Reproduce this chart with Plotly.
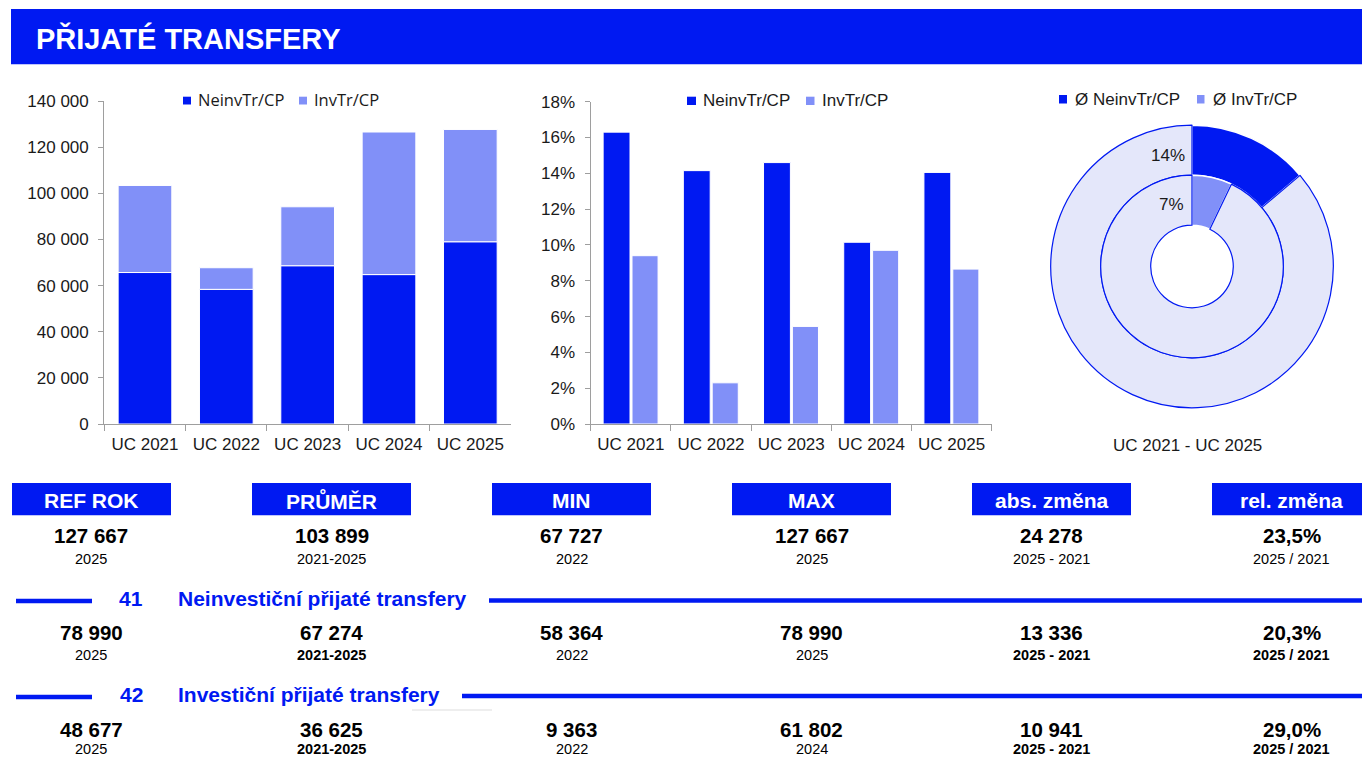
import plotly.graph_objects as go

# ---------------- data ----------------
years = ["UC 2021", "UC 2022", "UC 2023", "UC 2024", "UC 2025"]
neinv = [65654, 58364, 68600, 64762, 78990]
inv = [37736, 9363, 25547, 61802, 48677]
neinv_pct = [16.3, 14.15, 14.6, 10.15, 14.05]
inv_pct = [9.4, 2.3, 5.45, 9.7, 8.65]
donut_neinv = [13.85, 86.15]
donut_inv = [7.1, 92.9]
donut_labels_txt = ["14%", "7%"]
series_names = ["NeinvTr/CP", "InvTr/CP"]
donut_names = ["Ø NeinvTr/CP", "Ø InvTr/CP"]
donut_period = "UC 2021 - UC 2025"

title = "PŘIJATÉ TRANSFERY"
headers = ["REF ROK", "PRŮMĚR", "MIN", "MAX", "abs. změna", "rel. změna"]
total_vals = ["127 667", "103 899", "67 727", "127 667", "24 278", "23,5%"]
total_sub = ["2025", "2021-2025", "2022", "2025", "2025 - 2021", "2025 / 2021"]
sec41_code, sec41_name = "41", "Neinvestiční přijaté transfery"
sec41_vals = ["78 990", "67 274", "58 364", "78 990", "13 336", "20,3%"]
sec41_sub = ["2025", "2021-2025", "2022", "2025", "2025 - 2021", "2025 / 2021"]
sec42_code, sec42_name = "42", "Investiční přijaté transfery"
sec42_vals = ["48 677", "36 625", "9 363", "61 802", "10 941", "29,0%"]
sec42_sub = ["2025", "2021-2025", "2022", "2024", "2025 - 2021", "2025 / 2021"]
sub_bold = [False, True, False, False, True, True]

# ---------------- style ----------------
W, H = 1362, 758
BLUE = "#0019F2"
LIGHT = "#8190F8"
LAV = "#E4E7FA"
GRAY = "#9E9E9E"
TXT = "#1A1A1A"
ARIAL = "Arial, Liberation Sans, sans-serif"
LEG1 = "Open Sans, Noto Sans, sans-serif"


def fx(x):
    return x / W


def fy(y):
    return 1 - y / H


fig = go.Figure()

# ---------------- chart 1 : stacked ----------------
fig.add_trace(go.Bar(x=years, y=neinv, name=series_names[0], marker=dict(color=BLUE, line=dict(color="white", width=1)),
                     width=0.66, offsetgroup="s", xaxis="x", yaxis="y", showlegend=False))
fig.add_trace(go.Bar(x=years, y=inv, base=neinv, name=series_names[1], marker=dict(color=LIGHT, line=dict(color="white", width=1)),
                     width=0.66, offsetgroup="s", xaxis="x", yaxis="y", showlegend=False))

# ---------------- chart 2 : grouped ----------------
fig.add_trace(go.Bar(x=years, y=neinv_pct, name=series_names[0], marker=dict(color=BLUE, line=dict(color="white", width=1)),
                     width=0.335, offset=-0.345, xaxis="x2", yaxis="y2", showlegend=False))
fig.add_trace(go.Bar(x=years, y=inv_pct, name=series_names[1], marker=dict(color=LIGHT, line=dict(color="white", width=1)),
                     width=0.325, offset=0.015, xaxis="x2", yaxis="y2", showlegend=False))

# ---------------- donut ----------------
cx, cy = 1192, 266.5
R_out, R_mid, R_in = 141.3, 91.3, 41.3
fig.add_trace(go.Pie(values=donut_neinv, labels=[donut_names[0], "rest1"], sort=False, direction="clockwise", rotation=0,
                     hole=R_mid / R_out, textinfo="none", hoverinfo="skip", showlegend=False,
                     marker=dict(colors=[BLUE, LAV], line=dict(color=["white", BLUE], width=[1.5, 1.2])),
                     domain=dict(x=[fx(cx - R_out), fx(cx + R_out)], y=[fy(cy + R_out), fy(cy - R_out)])))
fig.add_trace(go.Pie(values=donut_inv, labels=[donut_names[1], "rest2"], sort=False, direction="clockwise", rotation=0,
                     hole=R_in / R_mid, textinfo="none", hoverinfo="skip", showlegend=False,
                     marker=dict(colors=[LIGHT, LAV], line=dict(color=["white", BLUE], width=[1.5, 1.2])),
                     domain=dict(x=[fx(cx - R_mid), fx(cx + R_mid)], y=[fy(cy + R_mid), fy(cy - R_mid)])))

axis_common = dict(showline=True, linecolor=GRAY, linewidth=1.3, ticks="outside", tickcolor=GRAY, ticklen=5,
                   tickfont=dict(family=ARIAL, size=17, color=TXT), showgrid=False, zeroline=False, fixedrange=True,
                   automargin=False)

fig.update_layout(
    width=W, height=H, margin=dict(l=0, r=0, t=0, b=0, autoexpand=False), paper_bgcolor="white", plot_bgcolor="white",
    separators=", ", barmode="group", showlegend=False,
    xaxis=dict(domain=[fx(104.3), fx(511)], anchor="y", type="category", tickson="boundaries", ticklen=6,
               ticklabelstandoff=4, **{k: v for k, v in axis_common.items() if k != "ticklen"}),
    yaxis=dict(domain=[fy(424), fy(101)], anchor="x", range=[0, 140000], dtick=20000, tickformat=",d",
               ticklabelstandoff=6, **axis_common),
    xaxis2=dict(domain=[fx(590.7), fx(991.7)], anchor="y2", type="category", tickson="boundaries", ticklen=6,
                ticklabelstandoff=4, **{k: v for k, v in axis_common.items() if k != "ticklen"}),
    yaxis2=dict(domain=[fy(424), fy(101.7)], anchor="x2", range=[0, 18], dtick=2, ticksuffix="%",
                ticklabelstandoff=6, **axis_common),
)

shapes = []
ann = []


def text(x, y, s, size, color=TXT, bold=False, family=ARIAL, xanchor="center", yanchor="middle"):
    ann.append(dict(x=fx(x), y=fy(y), xref="paper", yref="paper", text=f"<b>{s}</b>" if bold else s,
                    showarrow=False, xanchor=xanchor, yanchor=yanchor, borderpad=0,
                    font=dict(family=family, size=size, color=color)))


def rect(x0, y0, x1, y1, color, line=None):
    shapes.append(dict(type="rect", xref="paper", yref="paper", x0=fx(x0), x1=fx(x1), y0=fy(y1), y1=fy(y0),
                       fillcolor=color, line=dict(width=0) if line is None else line, layer="below"))


def hline(x0, x1, y, color, width):
    shapes.append(dict(type="line", xref="paper", yref="paper", x0=fx(x0), x1=fx(x1), y0=fy(y), y1=fy(y),
                       line=dict(color=color, width=width)))


# title bar
rect(11, 9, W, 64.3, BLUE)
text(35, 38, title, 29, color="white", bold=True, xanchor="left")

# legends
rect(183, 96.7, 191, 104.5, BLUE)
text(197, 100, series_names[0], 16.5, family=LEG1, xanchor="left")
rect(299, 96.7, 307, 104.5, LIGHT)
text(313, 100, series_names[1], 16.5, family=LEG1, xanchor="left")

rect(687, 96.7, 696, 105, BLUE)
text(702, 100.5, series_names[0], 17, xanchor="left")
rect(806, 96.7, 814.5, 105, LIGHT)
text(820.5, 100.5, series_names[1], 17, xanchor="left")

rect(1059, 95, 1067, 103.5, BLUE)
text(1074, 99.5, donut_names[0], 17, xanchor="left")
rect(1197, 95, 1204.5, 103.5, LIGHT)
text(1212, 99.5, donut_names[1], 17, xanchor="left")

# donut labels
text(1168, 155, donut_labels_txt[0], 17)
text(1171, 204, donut_labels_txt[1], 17)
text(1187.5, 445, donut_period, 17)

# table
col_cx = [91.5 + 240 * i for i in range(6)]
for i, h in enumerate(headers):
    rect(col_cx[i] - 79.5, 483, col_cx[i] + 79.5, 515.3, BLUE)
    text(col_cx[i], 500, h, 21, color="white", bold=True)
    text(col_cx[i], 535, total_vals[i], 20.5, bold=True, color="black")
    text(col_cx[i], 558.5, total_sub[i], 14.5, color="black")

# section 41
hline(16, 92, 601, BLUE, 4.5)
text(131, 598, sec41_code, 21, color=BLUE, bold=True)
text(176.5, 598, sec41_name, 21, color=BLUE, bold=True, xanchor="left")
hline(489, W, 600.5, BLUE, 4.5)
for i in range(6):
    text(col_cx[i], 632.5, sec41_vals[i], 20.5, bold=True, color="black")
    text(col_cx[i], 655, sec41_sub[i], 14.5, bold=sub_bold[i], color="black")

# section 42
hline(16, 92, 697, BLUE, 4.5)
text(131, 694, sec42_code, 21, color=BLUE, bold=True)
text(176.5, 694, sec42_name, 21, color=BLUE, bold=True, xanchor="left")
hline(462, W, 696, BLUE, 4.5)
hline(412, 492, 710, "#DDDDDD", 1)
for i in range(6):
    text(col_cx[i], 729.5, sec42_vals[i], 20.5, bold=True, color="black")
    text(col_cx[i], 757.5, sec42_sub[i], 14.5, bold=sub_bold[i], color="black", yanchor="bottom")

fig.update_layout(shapes=shapes, annotations=ann)

fig.write_html("out.html", config={"displayModeBar": False},
               post_script="document.body.style.margin='0';document.body.style.overflow='hidden';")
